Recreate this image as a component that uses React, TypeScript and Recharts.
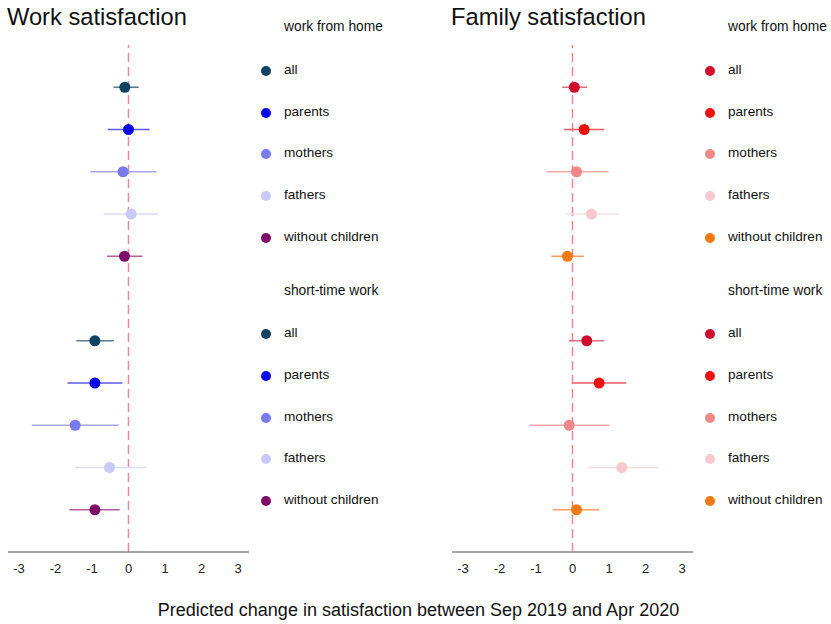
import { ScatterChart, Scatter, XAxis, YAxis, ErrorBar, ReferenceLine } from "recharts";

const groups = ["all", "parents", "mothers", "fathers", "without children"];
const xTicks = [-3, -2, -1, 0, 1, 2, 3];

// work satisfaction
const workWfhEst = [-0.1, 0.0, -0.15, 0.07, -0.11];
const workWfhLo = [-0.41, -0.57, -1.05, -0.68, -0.59];
const workWfhHi = [0.28, 0.58, 0.77, 0.81, 0.38];
const workStwEst = [-0.92, -0.92, -1.46, -0.52, -0.92];
const workStwLo = [-1.43, -1.67, -2.65, -1.46, -1.62];
const workStwHi = [-0.4, -0.17, -0.27, 0.49, -0.24];

// family satisfaction
const famWfhEst = [0.05, 0.32, 0.11, 0.52, -0.14];
const famWfhLo = [-0.28, -0.23, -0.72, -0.19, -0.58];
const famWfhHi = [0.4, 0.87, 0.99, 1.26, 0.31];
const famStwEst = [0.39, 0.73, -0.09, 1.35, 0.11];
const famStwLo = [-0.1, 0.0, -1.18, 0.43, -0.54];
const famStwHi = [0.86, 1.47, 1.01, 2.37, 0.73];

const workColors = ["#0f4262", "#0808ee", "#7a7af0", "#c9c9f7", "#7e0e68"];
const workBarColors = ["#5a7a90", "#5a5ae6", "#a8a8f2", "#dcdcf8", "#b060a0"];
const famColors = ["#cf0d2c", "#ef1010", "#f08888", "#f8c8ce", "#f27a12"];
const famBarColors = ["#e07080", "#ec5a60", "#f4a8aa", "#fadcdf", "#f4a060"];

const FONT = "'Liberation Sans', Arial, Helvetica, sans-serif";

function buildRows(est: number[], lo: number[], hi: number[], est2: number[], lo2: number[], hi2: number[], i: number) {
  return [
    { x: est[i], row: i, err: [est[i] - lo[i], hi[i] - est[i]] },
    { x: est2[i], row: i + 6, err: [est2[i] - lo2[i], hi2[i] - est2[i]] },
  ];
}

function Panel({
  left,
  plotLeft,
  title,
  est,
  lo,
  hi,
  est2,
  lo2,
  hi2,
  colors,
  barColors,
}: {
  left: number;
  plotLeft: number;
  title: string;
  est: number[];
  lo: number[];
  hi: number[];
  est2: number[];
  lo2: number[];
  hi2: number[];
  colors: string[];
  barColors: string[];
}) {
  const width = 250;
  return (
    <div style={{ position: "absolute", left, top: 0 }}>
      <div style={{ position: "absolute", left: plotLeft - 1, top: 4, fontSize: 23.7, color: "#111", whiteSpace: "nowrap" }}>
        {title}
      </div>
      <ScatterChart width={width} height={600} margin={{ top: 45, right: width - plotLeft - 241, bottom: 18, left: plotLeft }}>
        <XAxis
          type="number"
          dataKey="x"
          domain={[-3.3, 3.3]}
          ticks={xTicks}
          allowDataOverflow
          axisLine={{ stroke: "#8a8a8a", strokeWidth: 1.5 }}
          tickLine={false}
          tick={{ fontSize: 13, fill: "#222", fontFamily: FONT }}
          tickMargin={6}
          height={30}
        />
        <YAxis
          type="number"
          dataKey="row"
          domain={[-1, 11]}
          reversed
          width={0}
          tick={false}
          tickLine={false}
          axisLine={{ stroke: "#8a8a8a", strokeWidth: 1.5 }}
        />
        <ReferenceLine x={0} stroke="#e8889a" strokeWidth={1.5} strokeDasharray="9 5" />
        {groups.map((g, i) => (
          <Scatter
            key={g}
            name={g}
            data={buildRows(est, lo, hi, est2, lo2, hi2, i)}
            isAnimationActive={false}
            shape={(p: any) => <circle cx={p.cx} cy={p.cy} r={5.5} fill={colors[i]} />}
          >
            <ErrorBar dataKey="err" direction="x" width={0} stroke={barColors[i]} strokeWidth={1.6} />
          </Scatter>
        ))}
      </ScatterChart>
    </div>
  );
}

function Legend({ left, colors }: { left: number; colors: string[] }) {
  const wfhY = [70, 112, 153, 195, 237];
  const stwY = [333, 375, 417, 458, 500];
  const item = (label: string, y: number, color: string) => (
    <div key={label + y} style={{ position: "absolute", left, top: y - 9, height: 18, whiteSpace: "nowrap", fontSize: 13.6, color: "#111" }}>
      <span style={{ position: "absolute", left: -23, top: 4.5, width: 10, height: 10, borderRadius: 5, background: color }} />
      <span style={{ position: "absolute", left: 0, top: 0, lineHeight: "18px" }}>{label}</span>
    </div>
  );
  return (
    <>
      <div style={{ position: "absolute", left, top: 19, fontSize: 13.8, color: "#111", whiteSpace: "nowrap" }}>work from home</div>
      {groups.map((g, i) => item(g, wfhY[i], colors[i]))}
      <div style={{ position: "absolute", left, top: 283, fontSize: 13.8, color: "#111", whiteSpace: "nowrap" }}>short-time work</div>
      {groups.map((g, i) => item(g, stwY[i], colors[i]))}
    </>
  );
}

export default function App() {
  return (
    <div
      style={{
        position: "absolute",
        left: 0,
        top: 0,
        width: 831,
        height: 624,
        overflow: "hidden",
        background: "#fff",
        fontFamily: FONT,
      }}
    >
      <Panel
        left={0}
        plotLeft={8}
        title="Work satisfaction"
        est={workWfhEst}
        lo={workWfhLo}
        hi={workWfhHi}
        est2={workStwEst}
        lo2={workStwLo}
        hi2={workStwHi}
        colors={workColors}
        barColors={workBarColors}
      />
      <Panel
        left={444}
        plotLeft={8}
        title="Family satisfaction"
        est={famWfhEst}
        lo={famWfhLo}
        hi={famWfhHi}
        est2={famStwEst}
        lo2={famStwLo}
        hi2={famStwHi}
        colors={famColors}
        barColors={famBarColors}
      />
      <Legend left={284} colors={workColors} />
      <Legend left={728} colors={famColors} />
      <div style={{ position: "absolute", left: 0, width: 837, top: 600, textAlign: "center", fontSize: 18, color: "#111" }}>
        Predicted change in satisfaction between Sep 2019 and Apr 2020
      </div>
    </div>
  );
}
